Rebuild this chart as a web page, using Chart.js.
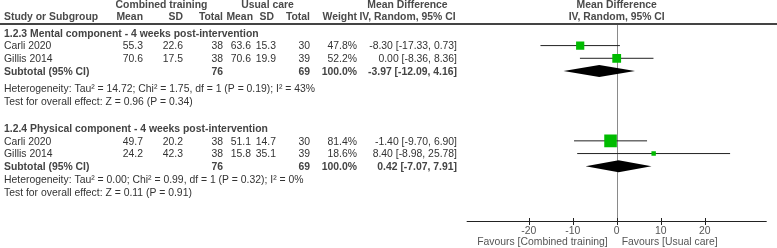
<!DOCTYPE html>
<html>
<head>
<meta charset="utf-8">
<script src="https://cdn.jsdelivr.net/npm/chart.js@4"></script>
<style>
  html, body { margin: 0; padding: 0; background: #fff; }
  canvas { display: block; }
</style>
</head>
<body>
<canvas id="forest" width="777" height="248"></canvas>
<script>
// subgroups and studies
const groupTitles = [
    '1.2.3 Mental component - 4 weeks post-intervention',
    '1.2.4 Physical component - 4 weeks post-intervention'
];
const studyNames = ['Carli 2020', 'Gillis 2014', 'Carli 2020', 'Gillis 2014'];
const studyGroup = [0, 0, 1, 1];

// combined training arm
const ctMean = [55.3, 70.6, 49.7, 24.2];
const ctSD = [22.6, 17.5, 20.2, 42.3];
const ctTotal = [38, 38, 38, 38];

// usual care arm
const ucMean = [63.6, 70.6, 51.1, 15.8];
const ucSD = [15.3, 19.9, 14.7, 35.1];
const ucTotal = [30, 39, 30, 39];

// effect estimates
const weights = [47.8, 52.2, 81.4, 18.6];
const meanDiff = [-8.30, 0.00, -1.40, 8.40];
const ciLow = [-17.33, -8.36, -9.70, -8.98];
const ciHigh = [0.73, 8.36, 6.90, 25.78];

// subtotals
const subCtTotal = [76, 76];
const subUcTotal = [69, 69];
const subWeight = [100.0, 100.0];
const subMeanDiff = [-3.97, 0.42];
const subLow = [-12.09, -7.07];
const subHigh = [4.16, 7.91];

const heterogeneity = [
    'Heterogeneity: Tau² = 14.72; Chi² = 1.75, df = 1 (P = 0.19); I² = 43%',
    'Heterogeneity: Tau² = 0.00; Chi² = 0.99, df = 1 (P = 0.32); I² = 0%'
];
const overallEffect = [
    'Test for overall effect: Z = 0.96 (P = 0.34)',
    'Test for overall effect: Z = 0.11 (P = 0.91)'
];

const xTicks = [-20, -10, 0, 10, 20];
const favoursLeft = 'Favours [Combined training]';
const favoursRight = 'Favours [Usual care]';

// row layout (in row units)
const groupStartRow = [0, 7.5];
const hetGap = [4.35, 4.05];
const studyRow = (i) => groupStartRow[studyGroup[i]] + 1 + studyGroup.slice(0, i).filter(g => g === studyGroup[i]).length;
const subtotalRow = (g) => groupStartRow[g] + 3;
const hetRow = (g) => groupStartRow[g] + hetGap[g];
const testRow = (g) => groupStartRow[g] + hetGap[g] + 1;

const FONT = '"Liberation Sans", Arial, sans-serif';
const FS = 10.4;
const GREEN = '#00bb00';

const fmt1 = v => v.toFixed(1);
const fmtCI = (m, lo, hi) => `${m.toFixed(2)} [${lo.toFixed(2)}, ${hi.toFixed(2)}]`;

// columns: [x, align]
const COL = {
    study: [4, 'left'],
    ctMean: [143, 'right'],
    ctSD: [183, 'right'],
    ctTotal: [223, 'right'],
    ucMean: [251, 'right'],
    ucSD: [276, 'right'],
    ucTotal: [310, 'right'],
    weight: [357, 'right'],
    ci: [457, 'right']
};

function text(ctx, str, x, y, align, bold, color) {
    ctx.font = (bold ? 'bold ' : '') + FS + 'px ' + FONT;
    ctx.textAlign = align;
    ctx.textBaseline = 'middle';
    ctx.fillStyle = color || '#333';
    ctx.fillText(str, x, y);
}

const forestPlugin = {
    id: 'forest',
    beforeDatasetsDraw(chart) {
        const ctx = chart.ctx;
        const xs = chart.scales.x;
        const area = chart.chartArea;
        const x0 = Math.round(xs.getPixelForValue(0)) + 0.5;
        ctx.save();
        ctx.strokeStyle = '#8a8a8a';
        ctx.lineWidth = 1;
        ctx.beginPath();
        ctx.moveTo(x0, area.top);
        ctx.lineTo(x0, area.bottom);
        ctx.stroke();
        ctx.restore();
    },
    afterDatasetsDraw(chart) {
        const ctx = chart.ctx;
        const xs = chart.scales.x;
        const ys = chart.scales.y;
        ctx.save();
        ctx.fillStyle = '#000';
        subMeanDiff.forEach((m, g) => {
            const y = ys.getPixelForValue(subtotalRow(g));
            ctx.beginPath();
            ctx.moveTo(xs.getPixelForValue(subLow[g]), y);
            ctx.lineTo(xs.getPixelForValue(m), y - 6);
            ctx.lineTo(xs.getPixelForValue(subHigh[g]), y);
            ctx.lineTo(xs.getPixelForValue(m), y + 6);
            ctx.closePath();
            ctx.fill();
        });
        ctx.restore();
    },
    afterDraw(chart) {
        const ctx = chart.ctx;
        const xs = chart.scales.x;
        const ys = chart.scales.y;
        const area = chart.chartArea;
        const ty = r => ys.getPixelForValue(r) + 1;
        ctx.save();

        // header
        const h1 = ys.getPixelForValue(-2.2);
        const h2 = ys.getPixelForValue(-1.25);
        const hc = '#4a4a4a';
        text(ctx, 'Combined training', 161.5, h1, 'center', true, hc);
        text(ctx, 'Usual care', 267.5, h1, 'center', true, hc);
        text(ctx, 'Mean Difference', 407.5, h1, 'center', true, hc);
        text(ctx, 'Mean Difference', xs.getPixelForValue(0), h1, 'center', true, hc);
        text(ctx, 'Study or Subgroup', COL.study[0], h2, 'left', true, hc);
        text(ctx, 'Mean', COL.ctMean[0], h2, 'right', true, hc);
        text(ctx, 'SD', COL.ctSD[0], h2, 'right', true, hc);
        text(ctx, 'Total', COL.ctTotal[0], h2, 'right', true, hc);
        text(ctx, 'Mean', 253, h2, 'right', true, hc);
        text(ctx, 'SD', 274, h2, 'right', true, hc);
        text(ctx, 'Total', COL.ucTotal[0], h2, 'right', true, hc);
        text(ctx, 'Weight', COL.weight[0], h2, 'right', true, hc);
        text(ctx, 'IV, Random, 95% CI', 407.5, h2, 'center', true, hc);
        text(ctx, 'IV, Random, 95% CI', xs.getPixelForValue(0), h2, 'center', true, hc);

        ctx.strokeStyle = '#444';
        ctx.lineWidth = 2;
        ctx.beginPath();
        ctx.moveTo(0, area.top);
        ctx.lineTo(777, area.top);
        ctx.stroke();

        // groups
        groupTitles.forEach((t, g) => {
            text(ctx, t, COL.study[0], ty(groupStartRow[g]), 'left', true, '#444');
            const sy = ty(subtotalRow(g));
            text(ctx, 'Subtotal (95% CI)', COL.study[0], sy, 'left', true, '#444');
            text(ctx, String(subCtTotal[g]), COL.ctTotal[0], sy, 'right', true, '#444');
            text(ctx, String(subUcTotal[g]), COL.ucTotal[0], sy, 'right', true, '#444');
            text(ctx, fmt1(subWeight[g]) + '%', COL.weight[0], sy, 'right', true, '#444');
            text(ctx, fmtCI(subMeanDiff[g], subLow[g], subHigh[g]), COL.ci[0], sy, 'right', true, '#444');
            text(ctx, heterogeneity[g], COL.study[0], ty(hetRow(g)), 'left', false);
            text(ctx, overallEffect[g], COL.study[0], ty(testRow(g)), 'left', false);
        });

        // studies
        studyNames.forEach((name, i) => {
            const y = ty(studyRow(i));
            text(ctx, name, COL.study[0], y, 'left', false);
            text(ctx, fmt1(ctMean[i]), COL.ctMean[0], y, 'right', false);
            text(ctx, fmt1(ctSD[i]), COL.ctSD[0], y, 'right', false);
            text(ctx, String(ctTotal[i]), COL.ctTotal[0], y, 'right', false);
            text(ctx, fmt1(ucMean[i]), COL.ucMean[0], y, 'right', false);
            text(ctx, fmt1(ucSD[i]), COL.ucSD[0], y, 'right', false);
            text(ctx, String(ucTotal[i]), COL.ucTotal[0], y, 'right', false);
            text(ctx, fmt1(weights[i]) + '%', COL.weight[0], y, 'right', false);
            text(ctx, fmtCI(meanDiff[i], ciLow[i], ciHigh[i]), COL.ci[0], y, 'right', false);
        });

        // x axis
        const ay = Math.round(area.bottom) + 0.5;
        ctx.strokeStyle = '#222';
        ctx.lineWidth = 1;
        ctx.beginPath();
        ctx.moveTo(area.left, ay);
        ctx.lineTo(area.right, ay);
        xs.ticks.forEach(t => {
            const x = Math.round(xs.getPixelForValue(t.value)) + 0.5;
            ctx.moveTo(x, ay - 3.5);
            ctx.lineTo(x, ay + 3.5);
        });
        ctx.stroke();
        xs.ticks.forEach(t => {
            text(ctx, String(t.value), xs.getPixelForValue(t.value), ay + 9.5, 'center', false, '#555');
        });
        const x0 = xs.getPixelForValue(0);
        text(ctx, favoursLeft, x0 - 9, ay + 21, 'right', false, '#555');
        text(ctx, favoursRight, x0 + 5, ay + 21, 'left', false, '#555');

        ctx.restore();
    }
};

const datasets = [
    {
        type: 'scatter',
        data: meanDiff.map((m, i) => ({ x: m, y: studyRow(i) })),
        pointStyle: 'rect',
        pointRadius: weights.map(w => (2 + 0.13 * w) / Math.SQRT2),
        backgroundColor: GREEN,
        borderWidth: 0
    }
];
studyNames.forEach((name, i) => {
    datasets.push({
        type: 'line',
        data: [{ x: ciLow[i], y: studyRow(i) }, { x: ciHigh[i], y: studyRow(i) }],
        borderColor: '#222',
        borderWidth: 1,
        pointRadius: 0,
        fill: false
    });
});

new Chart(document.getElementById('forest'), {
    type: 'scatter',
    data: { datasets: datasets },
    options: {
        responsive: false,
        animation: false,
        devicePixelRatio: 1,
        layout: { padding: { left: 466.7, right: 10.3, top: 24, bottom: 27 } },
        plugins: { legend: { display: false }, tooltip: { enabled: false } },
        scales: {
            x: {
                type: 'linear', min: -34.1, max: 34.1, display: false,
                afterBuildTicks: s => { s.ticks = xTicks.map(v => ({ value: v })); }
            },
            y: { type: 'linear', min: -0.7, max: 14.81, reverse: true, display: false }
        }
    },
    plugins: [forestPlugin]
});
</script>
</body>
</html>
